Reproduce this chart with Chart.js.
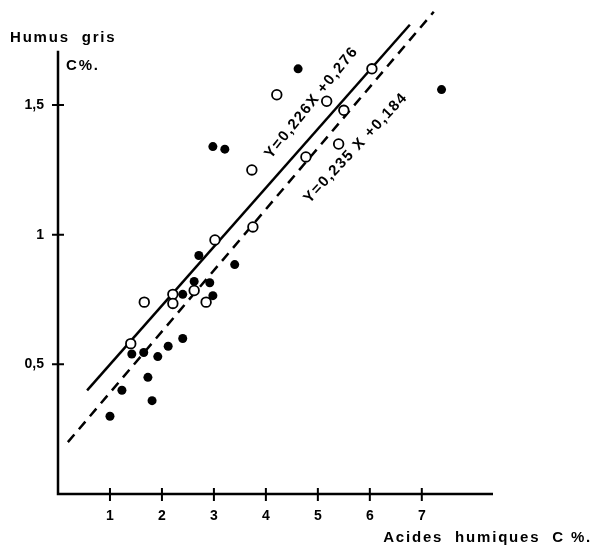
<!DOCTYPE html>
<html>
<head>
<meta charset="utf-8">
<script src="https://cdn.jsdelivr.net/npm/chart.js@4/dist/chart.umd.min.js"></script>
<style>
  body { margin: 0; background: #fff; }
  canvas { display: block; }
</style>
</head>
<body>
<canvas id="grafico" width="596" height="553"></canvas>
<script>
// points ouverts (o)
const ouvertsX = [1.40, 1.66, 2.21, 2.21, 2.62, 2.85, 3.02, 3.75, 3.73, 4.21, 4.77, 5.17, 5.40, 5.50, 6.04];
const ouvertsY = [0.58, 0.74, 0.77, 0.735, 0.785, 0.74, 0.98, 1.03, 1.25, 1.54, 1.30, 1.515, 1.35, 1.48, 1.64];
// points pleins (•)
const pleinsX = [1.00, 1.23, 1.42, 1.65, 1.73, 1.81, 1.92, 2.12, 2.40, 2.40, 2.62, 2.71, 2.92, 2.98, 3.40, 2.98, 3.21, 4.62, 7.38];
const pleinsY = [0.30, 0.40, 0.54, 0.546, 0.45, 0.36, 0.53, 0.57, 0.60, 0.77, 0.82, 0.92, 0.815, 0.765, 0.885, 1.34, 1.33, 1.64, 1.56];
// droites de regression (extremites)
const droite1X = [0.56, 6.77];
const droite1Y = [0.40, 1.81];
const droite2X = [0.19, 7.23];
const droite2Y = [0.20, 1.86];
const ticksX = [1, 2, 3, 4, 5, 6, 7];
const ticksY = [0.5, 1, 1.5];
const finAxeX = 8.37;
const finAxeY = 1.71;

const toPts = (xs, ys) => xs.map((x, i) => ({x: x, y: ys[i]}));

const police = "'Liberation Sans', Arial, sans-serif";

const axes = {
  id: 'axes',
  beforeDatasetsDraw(chart) {
    const c = chart.ctx;
    const sx = chart.scales.x, sy = chart.scales.y;
    const x0 = sx.getPixelForValue(0), y0 = sy.getPixelForValue(0);
    c.save();
    c.strokeStyle = '#000';
    c.lineWidth = 2.5;
    c.beginPath();
    c.moveTo(x0, sy.getPixelForValue(finAxeY));
    c.lineTo(x0, y0);
    c.lineTo(sx.getPixelForValue(finAxeX), y0);
    c.stroke();
    c.lineWidth = 2;
    c.beginPath();
    ticksX.forEach(v => {
      const px = sx.getPixelForValue(v);
      c.moveTo(px, y0 - 6); c.lineTo(px, y0 + 7);
    });
    ticksY.forEach(v => {
      const py = sy.getPixelForValue(v);
      c.moveTo(x0 - 6, py); c.lineTo(x0 + 6, py);
    });
    c.stroke();
    c.restore();
  },
  afterDraw(chart) {
    const c = chart.ctx;
    const sx = chart.scales.x, sy = chart.scales.y;
    c.save();
    c.fillStyle = '#000';
    c.textBaseline = 'middle';
    c.font = 'bold 15px ' + police;
    c.letterSpacing = '1.8px';
    c.textAlign = 'left';
    c.fillText('Humus  gris', 10, 38);
    c.fillText('C%.', 66, 66);
    c.textAlign = 'right';
    c.fillText('Acides  humiques  C %.', 592, 538);
    // equations
    c.font = 'bold 15px ' + police;
    c.letterSpacing = '1.5px';
    c.textAlign = 'center';
    const eq = [
      ['Y=0,226X +0,276', 4.88, 1.51, -51],
      ['Y=0,235 X +0,184', 5.73, 1.335, -47]
    ];
    eq.forEach(e => {
      c.save();
      c.translate(sx.getPixelForValue(e[1]), sy.getPixelForValue(e[2]));
      c.rotate(e[3] * Math.PI / 180);
      c.fillText(e[0], 0, 0);
      c.restore();
    });
    c.restore();
  }
};

new Chart(document.getElementById('grafico').getContext('2d'), {
  type: 'scatter',
  data: {
    datasets: [
      {
        label: 'ouverts',
        data: toPts(ouvertsX, ouvertsY),
        pointRadius: 4.8,
        pointBackgroundColor: '#fff',
        pointBorderColor: '#000',
        pointBorderWidth: 1.8
      },
      {
        label: 'pleins',
        data: toPts(pleinsX, pleinsY),
        pointRadius: 4.5,
        pointBackgroundColor: '#000',
        pointBorderColor: '#000',
        pointBorderWidth: 0
      },
      {
        type: 'line',
        label: 'Y=0,226X+0,276',
        data: toPts(droite1X, droite1Y),
        borderColor: '#000',
        borderWidth: 2.5,
        pointRadius: 0,
        fill: false
      },
      {
        type: 'line',
        label: 'Y=0,235X+0,184',
        data: toPts(droite2X, droite2Y),
        borderColor: '#000',
        borderWidth: 2.5,
        borderDash: [10, 7],
        pointRadius: 0,
        fill: false
      }
    ]
  },
  options: {
    responsive: false,
    animation: false,
    layout: { padding: { top: 0, right: 103, bottom: 0, left: 0 } },
    plugins: { legend: { display: false }, tooltip: { enabled: false } },
    scales: {
      x: {
        type: 'linear',
        min: 0,
        max: finAxeX,
        grid: { display: false, drawTicks: false },
        border: { display: false },
        afterBuildTicks: s => { s.ticks = ticksX.map(v => ({value: v})); },
        afterFit: s => { s.height = 59; s.paddingLeft = 0; s.paddingRight = 0; },
        ticks: {
          padding: 14,
          color: '#000',
          font: { family: police, size: 14, weight: 'bold' }
        }
      },
      y: {
        type: 'linear',
        min: 0,
        max: 1.88,
        grid: { display: false, drawTicks: false },
        border: { display: false },
        afterBuildTicks: s => { s.ticks = ticksY.map(v => ({value: v})); },
        afterFit: s => { s.width = 58; s.paddingTop = 0; s.paddingBottom = 0; },
        ticks: {
          padding: 14,
          color: '#000',
          font: { family: police, size: 14, weight: 'bold' },
          callback: v => String(v).replace('.', ',')
        }
      }
    }
  },
  plugins: [axes]
});
</script>
</body>
</html>
